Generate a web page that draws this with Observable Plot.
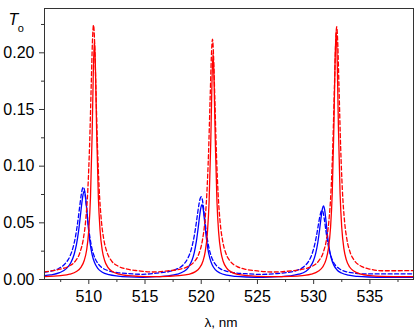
<!DOCTYPE html>
<html><head><meta charset="utf-8">
<script src="https://cdn.jsdelivr.net/npm/d3@7"></script>
<script src="https://cdn.jsdelivr.net/npm/@observablehq/plot@0.6"></script>
<style>body{margin:0;background:#fff}#chart{width:415px;height:335px}</style>
</head><body><div id="chart"></div>
<script>
// Red solid
const rsX = [506.06,507.5,508.3,508.9,509.3,509.6,509.8,510.0,510.15,510.3,510.4,510.5,510.6,510.7,510.85,511.0,511.2,511.4,511.7,512.1,512.7,513.5,514.5,515.8,
517.05,518.05,518.85,519.45,519.85,520.15,520.35,520.55,520.7,520.85,520.95,521.05,521.15,521.25,521.4,521.55,521.75,521.95,522.25,522.65,523.25,524.05,525.05,526.5,
528.0,529.0,529.8,530.4,530.8,531.1,531.3,531.5,531.65,531.8,531.9,532.0,532.1,532.2,532.35,532.5,532.7,532.9,533.2,533.6,534.2,535.0,536.0,538.88];
const rsY = [.0025,.0034,.0047,.007,.0107,.017,.0256,.0438,.0726,.1295,.1822,.211,.1822,.1295,.0726,.0438,.0256,.017,.0107,.007,.0047,.0034,.0028,.0025,
.0028,.0034,.0045,.0067,.0102,.0161,.0243,.0414,.0686,.1222,.1718,.2,.1718,.1222,.0686,.0414,.0243,.0161,.0102,.0067,.0045,.0034,.0028,.0025,
.0028,.0035,.0047,.0072,.011,.0176,.0266,.0456,.0757,.135,.19,.220,.19,.135,.0757,.0456,.0266,.0176,.011,.0072,.0047,.0035,.0028,.0025];
// Red dashed
const rdX = [506.06,507.42,508.22,508.82,509.22,509.52,509.72,509.92,510.07,510.22,510.32,510.42,510.52,510.62,510.77,510.92,511.12,511.32,511.62,512.02,512.62,513.42,514.42,515.7,
517.0,518.0,518.8,519.4,519.8,520.1,520.3,520.5,520.65,520.8,520.9,521.0,521.1,521.2,521.35,521.5,521.7,521.9,522.2,522.6,523.2,524.0,525.0,526.5,
528.05,529.05,529.85,530.45,530.85,531.15,531.35,531.55,531.7,531.85,531.95,532.05,532.15,532.25,532.4,532.55,532.75,532.95,533.25,533.65,534.25,535.05,536.05,538.88];
const rdY = [.0068,.0091,.0117,.0165,.024,.0362,.0517,.0805,.1183,.1729,.2088,.2245,.2088,.1729,.1183,.0805,.0517,.0362,.024,.0165,.0117,.0091,.0077,.0066,
.0076,.0089,.0114,.0159,.0229,.0343,.0488,.0759,.1114,.1626,.1962,.212,.1962,.1626,.1114,.0759,.0488,.0343,.0229,.0159,.0114,.0089,.0076,.0066,
.0077,.0091,.0116,.0164,.0238,.0358,.0511,.0797,.117,.171,.2064,.223,.2064,.171,.117,.0797,.0511,.0358,.0238,.0164,.0116,.0091,.0077,.0078];
// Blue solid
const bsX = [506.06,506.6,507.4,508.0,508.4,508.7,508.9,509.1,509.25,509.4,509.5,509.6,509.7,509.8,509.95,510.1,510.3,510.5,510.8,511.2,511.8,512.6,513.6,514.8,
516.07,517.07,517.87,518.47,518.87,519.17,519.37,519.57,519.72,519.87,519.97,520.07,520.17,520.27,520.42,520.57,520.77,520.97,521.27,521.67,522.27,523.07,524.07,525.5,
526.88,527.88,528.68,529.28,529.68,529.98,530.18,530.38,530.53,530.68,530.78,530.88,530.98,531.08,531.23,531.38,531.58,531.78,532.08,532.48,533.08,533.88,534.88,538.88];
const bsY = [.0034,.004,.006,.0096,.0148,.0223,.0307,.0434,.056,.069,.0756,.078,.0739,.0638,.0466,.0332,.0218,.0152,.0098,.0064,.0042,.003,.0023,.002,
.0025,.0032,.0047,.0072,.011,.0167,.0233,.0338,.0448,.0571,.0635,.066,.0625,.0541,.0396,.0282,.0186,.013,.0085,.0057,.0038,.0027,.0022,.002,
.0025,.0032,.0047,.0071,.0109,.0165,.023,.0333,.0441,.0562,.0625,.065,.0615,.0533,.039,.0278,.0183,.0129,.0084,.0057,.0038,.0027,.0022,.0018];
// Blue dashed
const bdX = [506.06,506.52,507.32,507.92,508.32,508.62,508.82,509.02,509.17,509.32,509.42,509.52,509.62,509.72,509.87,510.02,510.22,510.42,510.72,511.12,511.72,512.52,513.52,514.8,
516.0,517.0,517.8,518.4,518.8,519.1,519.3,519.5,519.65,519.8,519.9,520.0,520.1,520.2,520.35,520.5,520.7,520.9,521.2,521.6,522.2,523.0,524.0,525.4,
526.75,527.75,528.55,529.15,529.55,529.85,530.05,530.25,530.4,530.55,530.65,530.75,530.85,530.95,531.1,531.25,531.45,531.65,531.95,532.35,532.95,533.75,534.75,538.88];
const bdY = [.0065,.0072,.0097,.0142,.0204,.029,.0381,.051,.0627,.0742,.0796,.0815,.0786,.0708,.056,.0428,.0302,.0223,.0155,.0109,.0078,.0061,.0052,.0046,
.0056,.0068,.0091,.013,.0186,.0262,.0344,.0458,.0563,.0665,.0713,.073,.0704,.0635,.0503,.0385,.0273,.0203,.0142,.0101,.0074,.0059,.0051,.0045,
.0053,.0063,.0082,.0115,.016,.0224,.0291,.0385,.0472,.0556,.0596,.061,.0588,.0531,.0422,.0325,.0233,.0175,.0124,.0091,.0068,.0055,.0049,.005];

const xMajor = [510,515,520,525,530,535];
const xMinor = [507.5,512.5,517.5,522.5,527.5,532.5,537.5];
const yMajor = [0,0.05,0.10,0.15,0.20];
const yMinor = [0.025,0.075,0.125,0.175,0.225];
const yLabel = "T";
const ySub = "o";
const xLabel = "λ, nm";

const rows = (xs, ys) => xs.map((x, i) => ({x, y: ys[i]}));
const lineOpts = (stroke, dash) => ({x: "x", y: "y", stroke, strokeWidth: 1.3, curve: "monotone-x", strokeDasharray: dash});

const chart = Plot.plot({
  width: 415, height: 335,
  marginLeft: 44, marginRight: 2, marginTop: 8, marginBottom: 56,
  style: {fontFamily: "'Liberation Sans', Arial, sans-serif", fontSize: "16px", color: "#000", background: "#fff"},
  x: {domain: [506.06, 538.88]},
  y: {domain: [0, 0.2391]},
  marks: [
    Plot.line(rows(bdX, bdY), lineOpts("#0000ff", "4,2.5")),
    Plot.line(rows(bsX, bsY), lineOpts("#0000ff", null)),
    Plot.line(rows(rdX, rdY), lineOpts("#ff0000", "4,2.5")),
    Plot.line(rows(rsX, rsY), lineOpts("#ff0000", null)),
    Plot.frame({stroke: "#333"}),
    Plot.axisX(xMajor, {tickSize: 5, tickPadding: 6, stroke: "#333", tickFormat: d => String(d), label: null}),
    Plot.axisX(xMinor, {tickSize: 3, stroke: "#333", tickFormat: () => "", label: null}),
    Plot.axisY(yMajor, {tickSize: 5, tickPadding: 5, stroke: "#333", tickFormat: d => d.toFixed(2), label: null}),
    Plot.axisY(yMinor, {tickSize: 3, stroke: "#333", tickFormat: () => "", label: null}),
    Plot.text([xLabel], {frameAnchor: "bottom", dx: -8, dy: 47, fontSize: 13.5, fill: "#000"}),
    Plot.text([yLabel], {frameAnchor: "top-left", dx: -36, dy: 5, textAnchor: "start", fontSize: 16, fontStyle: "italic", fill: "#000"}),
    Plot.text([ySub], {frameAnchor: "top-left", dx: -26.7, dy: 16, textAnchor: "start", fontSize: 11, fill: "#000"})
  ]
});
document.getElementById("chart").appendChild(chart);
</script>
</body></html>
